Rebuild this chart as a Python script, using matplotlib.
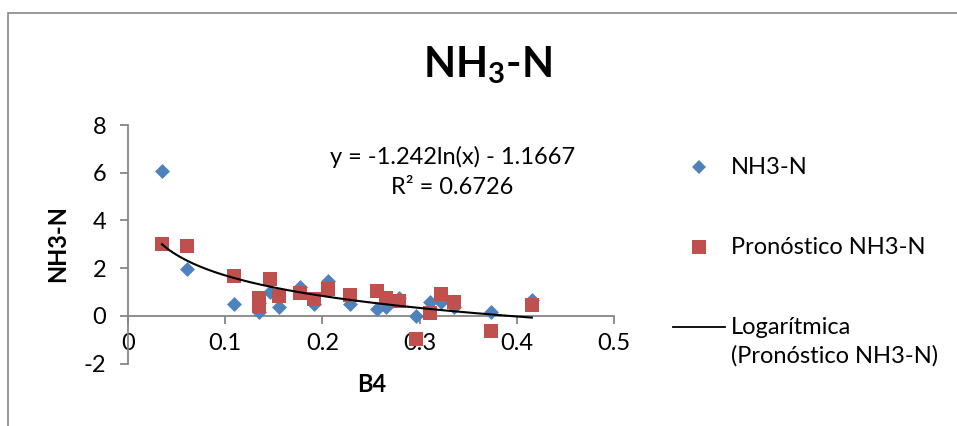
import matplotlib
matplotlib.use("Agg")
import matplotlib.pyplot as plt
import numpy as np
from matplotlib.lines import Line2D
from matplotlib.patches import Rectangle

# measured values
B4_OBS = [0.035, 0.061, 0.1086, 0.135, 0.135, 0.146, 0.155, 0.177, 0.191, 0.2055,
          0.228, 0.256, 0.265, 0.279, 0.296, 0.311, 0.322, 0.335, 0.373, 0.4155]
NH3_OBS = [6.06, 1.96, 0.49, 0.14, 0.55, 0.98, 0.35, 1.22, 0.50, 1.47,
           0.49, 0.28, 0.38, 0.75, 0.0, 0.56, 0.56, 0.35, 0.18, 0.66]

# forecast values
B4_PRED = [0.035, 0.061, 0.1086, 0.135, 0.135, 0.146, 0.155, 0.177, 0.191, 0.2055,
           0.228, 0.256, 0.265, 0.279, 0.296, 0.311, 0.322, 0.335, 0.373, 0.4155]
NH3_PRED = [3.0, 2.91, 1.68, 0.75, 0.40, 1.54, 0.84, 0.96, 0.69, 1.12,
            0.88, 1.05, 0.74, 0.63, -0.98, 0.10, 0.91, 0.56, -0.63, 0.45]

# log trendline printed on the chart
TREND_A = -1.242
TREND_B = -1.1667
R2 = 0.6726

X_TICKS = [0, 0.1, 0.2, 0.3, 0.4, 0.5]
X_TICK_LABELS = ["0", "0.1", "0.2", "0.3", "0.4", "0.5"]
Y_TICKS = [-2, 0, 2, 4, 6, 8]
Y_TICK_LABELS = ["-2", "0", "2", "4", "6", "8"]

BLUE = "#4F81BD"
RED = "#C0504D"
GRAY = "#868686"

W, H = 957, 426
FS = 17

plt.rcParams.update({
    "font.family": ["Lato", "DejaVu Sans"],
    "mathtext.fontset": "custom",
    "mathtext.rm": "Lato:bold",
    "mathtext.default": "rm",
})

fig = plt.figure(figsize=(W / 100, H / 100), dpi=100)
ax = fig.add_axes([128 / W, 1 - 363.5 / H, (614 - 128) / W, (363.5 - 125) / H])

ax.scatter(B4_OBS, NH3_OBS, marker="D", s=7.6 ** 2, color=BLUE, linewidths=0, zorder=3)
ax.scatter(B4_PRED, NH3_PRED, marker="s", s=10 ** 2, color=RED, linewidths=0, zorder=4)

xs = np.linspace(min(B4_PRED), max(B4_PRED), 200)
ax.plot(xs, TREND_A * np.log(xs) + TREND_B, color="black", lw=1.5, zorder=5)

ax.set_xlim(0, 0.5)
ax.set_ylim(-2, 8)
ax.set_xticks(X_TICKS)
ax.set_xticklabels(X_TICK_LABELS)
ax.set_yticks(Y_TICKS)
ax.set_yticklabels(Y_TICK_LABELS)
ax.spines[["top", "right"]].set_visible(False)
ax.spines["bottom"].set_position(("data", 0))
for s in ["left", "bottom"]:
    ax.spines[s].set_color(GRAY)
    ax.spines[s].set_linewidth(1.3)
ax.tick_params(axis="both", direction="out", length=5.8, width=1.3, color=GRAY,
               labelsize=FS, labelcolor="black")
ax.tick_params(axis="x", pad=6.5)
ax.tick_params(axis="y", pad=10)
ax.patch.set_visible(False)

# chart area border (cut by the image on the right and bottom)
fig.patches.append(Rectangle((8 / W, -0.5), 2, 1.5 - 13 / H, transform=fig.transFigure,
                             fill=False, edgecolor=GRAY, lw=1.2))

fig.text(487 / W, 1 - 65 / H, r"$NH_3$-N", ha="center", va="center",
         fontsize=30, fontweight="bold")
fig.text(58 / W, 1 - 244 / H, "NH3-N", rotation=90, ha="center", va="center",
         fontsize=FS, fontweight="bold")
fig.text(372 / W, 1 - 384 / H, "B4", ha="center", va="center",
         fontsize=FS, fontweight="bold")

fig.text(453 / W, 1 - 157 / H, f"y = {TREND_A}ln(x) - {-TREND_B}", ha="center",
         va="center", fontsize=FS)
fig.text(452 / W, 1 - 188 / H, f"R² = {R2}", ha="center", va="center", fontsize=FS)

# legend
fig.lines.append(Line2D([699 / W], [1 - 167 / H], marker="D", ms=7.6, color=BLUE,
                        mew=0, ls="none", transform=fig.transFigure))
fig.lines.append(Line2D([699 / W], [1 - 247 / H], marker="s", ms=10, color=RED,
                        mew=0, ls="none", transform=fig.transFigure))
fig.lines.append(Line2D([673 / W, 725 / W], [1 - 327 / H, 1 - 327 / H], color="black",
                        lw=1.3, transform=fig.transFigure))
fig.text(731 / W, 1 - 167 / H, "NH3-N", ha="left", va="center", fontsize=FS)
fig.text(731 / W, 1 - 247 / H, "Pronóstico NH3-N", ha="left", va="center", fontsize=FS)
fig.text(731 / W, 1 - 328 / H, "Logarítmica", ha="left", va="center", fontsize=FS)
fig.text(731 / W, 1 - 356 / H, "(Pronóstico NH3-N)", ha="left", va="center", fontsize=FS)

fig.savefig("out.png", dpi=100)
